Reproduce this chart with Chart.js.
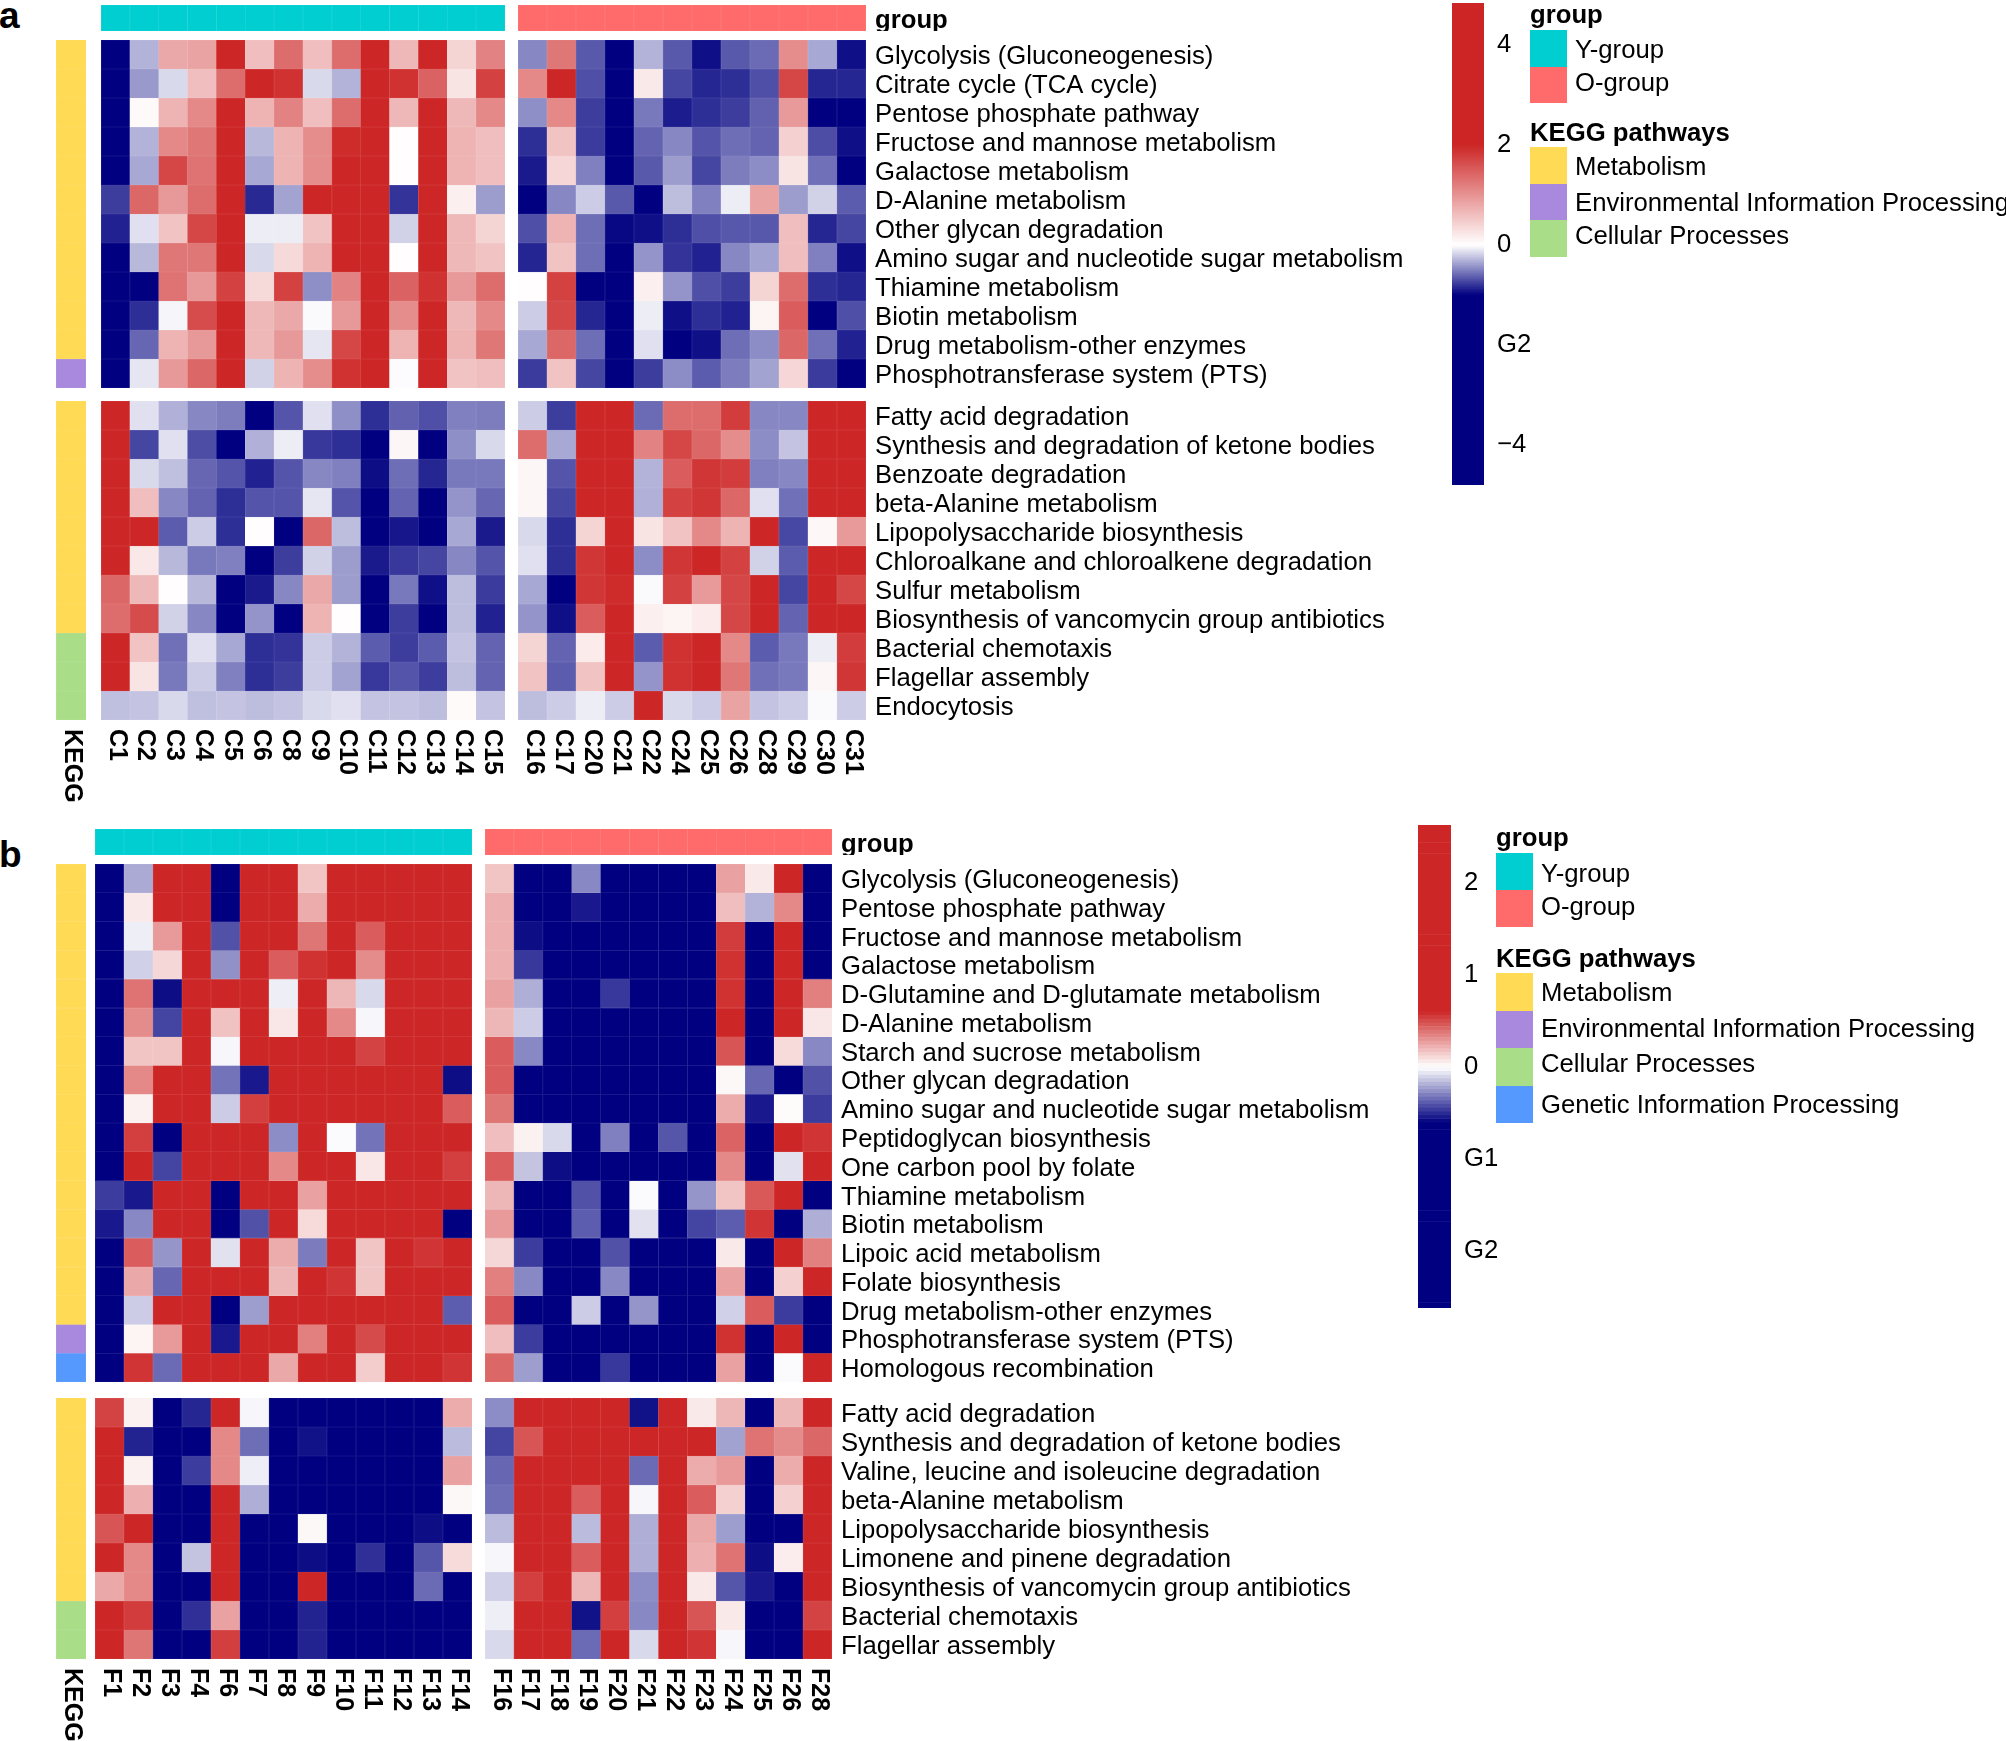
<!DOCTYPE html>
<html>
<head>
<meta charset="utf-8">
<script src="https://cdn.jsdelivr.net/npm/chart.js@4.4.0/dist/chart.umd.min.js"></script>
<style>
  html, body { margin: 0; padding: 0; background: #fff; overflow: hidden; }
  body { width: 2006px; height: 1741px; position: relative; font-family: "Liberation Sans", Arial, sans-serif; }
  canvas { position: absolute; }
  .t { position: absolute; white-space: nowrap; font-size: 25.7px; line-height: 30px; color: #000; }
  .b { font-weight: bold; }
  .sw { position: absolute; }
</style>
</head>
<body>
<script>
// ---- data ----
const groupNames = ['Y-group', 'O-group'];
const groupColors = ['#00CED1', '#FF6A6A'];
const keggNames = ['Metabolism', 'Environmental Information Processing', 'Cellular Processes', 'Genetic Information Processing'];
const keggColors = ['#FFDA55', '#A889DD', '#AADD88', '#5599FF'];

// panel a
const aColsY = ['C1', 'C2', 'C3', 'C4', 'C5', 'C6', 'C8', 'C9', 'C10', 'C11', 'C12', 'C13', 'C14', 'C15'];
const aColsO = ['C16', 'C17', 'C20', 'C21', 'C22', 'C24', 'C25', 'C26', 'C28', 'C29', 'C30', 'C31'];
const aRowsUp = ['Glycolysis (Gluconeogenesis)', 'Citrate cycle (TCA cycle)', 'Pentose phosphate pathway',
  'Fructose and mannose metabolism', 'Galactose metabolism', 'D-Alanine metabolism', 'Other glycan degradation',
  'Amino sugar and nucleotide sugar metabolism', 'Thiamine metabolism', 'Biotin metabolism',
  'Drug metabolism-other enzymes', 'Phosphotransferase system (PTS)'];
const aRowsDown = ['Fatty acid degradation', 'Synthesis and degradation of ketone bodies', 'Benzoate degradation',
  'beta-Alanine metabolism', 'Lipopolysaccharide biosynthesis', 'Chloroalkane and chloroalkene degradation',
  'Sulfur metabolism', 'Biosynthesis of vancomycin group antibiotics', 'Bacterial chemotaxis',
  'Flagellar assembly', 'Endocytosis'];
const aKeggUp = [0, 0, 0, 0, 0, 0, 0, 0, 0, 0, 0, 1];
const aKeggDown = [0, 0, 0, 0, 0, 0, 0, 0, 2, 2, 2];

const aUpY = [
  [-1.5, -0.3, 0.8, 0.85, 2.5, 0.6, 1.35, 0.6, 1.35, 2.5, 0.65, 2.5, 0.4, 1.15],
  [-1.5, -0.4, -0.15, 0.6, 1.35, 2.4, 1.9, -0.15, -0.3, 2.3, 1.9, 1.45, 0.25, 1.75],
  [-1.4, 0.05, 0.7, 1.1, 2.4, 0.7, 1.15, 0.6, 1.35, 2.2, 0.65, 2.4, 0.65, 1.1],
  [-1.4, -0.3, 1.1, 1.25, 2.3, -0.28, 0.7, 1.05, 1.95, 2.2, 0.02, 2.3, 0.7, 0.6],
  [-1.4, -0.34, 1.7, 1.3, 2.4, -0.34, 0.7, 1.05, 2.0, 2.2, 0.02, 2.4, 0.7, 0.6],
  [-0.76, 1.4, 0.95, 1.35, 2.3, -0.84, -0.36, 2.2, 2.1, 2.3, -0.8, 2.4, 0.15, -0.39],
  [-0.87, -0.12, 0.55, 1.7, 2.3, -0.07, -0.07, 0.55, 2.1, 2.2, -0.18, 2.3, 0.65, 0.4],
  [-1.3, -0.28, 1.25, 1.25, 2.3, -0.15, 0.35, 0.7, 2.1, 2.2, 0.02, 2.3, 0.65, 0.55],
  [-1.3, -1.2, 1.3, 0.95, 1.75, 0.35, 1.75, -0.44, 1.15, 2.2, 1.45, 1.9, 0.95, 1.35],
  [-1.3, -0.82, -0.04, 1.65, 2.3, 0.65, 0.8, -0.02, 0.95, 2.2, 1.05, 2.3, 0.65, 1.1],
  [-1.3, -0.6, 0.7, 0.95, 2.3, 0.65, 0.95, -0.1, 1.7, 2.2, 0.7, 2.3, 0.7, 1.25],
  [-1.3, -0.1, 0.95, 1.4, 2.3, -0.18, 0.7, 1.05, 1.9, 2.1, -0.01, 2.3, 0.55, 0.6]
];
const aUpO = [
  [-0.47, 1.25, -0.65, -1.5, -0.3, -0.65, -0.94, -0.65, -0.58, 1.05, -0.34, -0.94],
  [1.1, 2.2, -0.69, -1.5, 0.2, -0.73, -0.85, -0.82, -0.69, 1.7, -0.85, -0.85],
  [-0.44, 1.1, -0.76, -1.4, -0.53, -0.89, -0.82, -0.76, -0.62, 0.93, -1.05, -1.3],
  [-0.82, 0.55, -0.77, -1.4, -0.61, -0.47, -0.67, -0.57, -0.61, 0.43, -0.7, -0.94],
  [-0.9, 0.38, -0.5, -1.4, -0.65, -0.39, -0.73, -0.51, -0.45, 0.25, -0.56, -1.1],
  [-1.2, -0.47, -0.2, -0.65, -1.1, -0.26, -0.5, -0.07, 0.85, -0.39, -0.18, -0.64],
  [-0.69, 0.7, -0.57, -0.97, -0.94, -0.82, -0.69, -0.66, -0.66, 0.6, -0.85, -0.73],
  [-0.86, 0.55, -0.57, -1.3, -0.42, -0.8, -0.87, -0.47, -0.36, 0.6, -0.5, -0.94],
  [0.02, 1.75, -1.2, -1.3, 0.15, -0.42, -0.69, -0.76, 0.4, 1.35, -0.82, -0.85],
  [-0.2, 1.7, -0.85, -1.3, -0.07, -0.94, -0.82, -0.87, 0.1, 1.5, -1.2, -0.69],
  [-0.34, 1.4, -0.57, -1.3, -0.12, -1.05, -0.94, -0.57, -0.45, 1.4, -0.56, -0.87],
  [-0.77, 0.55, -0.73, -1.3, -0.76, -0.45, -0.64, -0.51, -0.36, 0.38, -0.77, -1.2]
];
const aDownY = [
  [2.3, -0.12, -0.31, -0.47, -0.51, -1.2, -0.67, -0.12, -0.44, -0.82, -0.62, -0.69, -0.5, -0.51],
  [2.2, -0.73, -0.12, -0.7, -1.2, -0.31, -0.07, -0.78, -0.82, -1.2, 0.08, -1.3, -0.44, -0.15],
  [2.2, -0.15, -0.25, -0.6, -0.67, -0.87, -0.67, -0.47, -0.5, -0.95, -0.57, -0.85, -0.53, -0.53],
  [2.2, 0.6, -0.47, -0.61, -0.82, -0.67, -0.67, -0.1, -0.67, -1.2, -0.61, -1.05, -0.42, -0.6],
  [2.2, 2.0, -0.64, -0.2, -0.82, 0.02, -1.2, 1.4, -0.26, -1.2, -0.91, -1.1, -0.34, -0.9],
  [2.2, 0.22, -0.28, -0.53, -0.5, -1.2, -0.76, -0.18, -0.39, -0.9, -0.78, -0.73, -0.47, -0.67],
  [1.4, 0.65, 0.02, -0.28, -1.2, -0.9, -0.47, 0.8, -0.39, -1.2, -0.53, -0.94, -0.26, -0.77],
  [1.35, 1.65, -0.18, -0.47, -1.05, -0.42, -1.2, 0.7, 0.02, -1.2, -0.76, -1.2, -0.26, -0.87],
  [2.2, 0.55, -0.56, -0.12, -0.34, -0.82, -0.8, -0.2, -0.3, -0.64, -0.76, -0.64, -0.23, -0.61],
  [2.2, 0.25, -0.53, -0.2, -0.5, -0.82, -0.76, -0.2, -0.36, -0.78, -0.67, -0.76, -0.26, -0.61],
  [-0.25, -0.23, -0.15, -0.25, -0.23, -0.26, -0.23, -0.15, -0.12, -0.23, -0.23, -0.26, 0.05, -0.23]
];
const aDownO = [
  [-0.2, -0.76, 2.2, 2.2, -0.58, 1.35, 1.35, 1.8, -0.47, -0.47, 2.2, 2.2],
  [1.35, -0.34, 2.2, 2.2, 1.15, 1.7, 1.4, 1.05, -0.45, -0.23, 2.2, 2.2],
  [0.08, -0.67, 2.2, 2.2, -0.3, 1.5, 1.85, 1.8, -0.5, -0.47, 2.2, 2.2],
  [0.08, -0.73, 2.2, 2.2, -0.31, 1.75, 1.85, 1.4, -0.12, -0.56, 2.2, 2.2],
  [-0.15, -0.82, 0.4, 2.2, 0.25, 0.55, 1.1, 0.7, 2.1, -0.72, 0.07, 0.93],
  [-0.12, -0.82, 1.85, 2.2, -0.45, 1.85, 2.1, 1.75, -0.18, -0.64, 2.2, 2.2],
  [-0.34, -1.3, 1.85, 1.95, -0.02, 1.75, 0.93, 1.7, 2.1, -0.73, 2.2, 1.7],
  [-0.42, -0.94, 1.5, 2.2, 0.15, 0.1, 0.18, 1.7, 2.1, -0.61, 2.2, 2.2],
  [0.4, -0.61, 0.18, 2.2, -0.64, 1.9, 2.1, 1.1, -0.64, -0.53, -0.07, 1.8],
  [0.55, -0.64, 0.55, 2.2, -0.42, 1.9, 2.1, 1.25, -0.56, -0.53, 0.08, 1.85],
  [-0.26, -0.2, -0.07, -0.2, 2.1, -0.15, -0.2, 0.85, -0.23, -0.2, -0.02, -0.2]
];

// panel b
const bColsY = ['F1', 'F2', 'F3', 'F4', 'F6', 'F7', 'F8', 'F9', 'F10', 'F11', 'F12', 'F13', 'F14'];
const bColsO = ['F16', 'F17', 'F18', 'F19', 'F20', 'F21', 'F22', 'F23', 'F24', 'F25', 'F26', 'F28'];
const bRowsUp = ['Glycolysis (Gluconeogenesis)', 'Pentose phosphate pathway', 'Fructose and mannose metabolism',
  'Galactose metabolism', 'D-Glutamine and D-glutamate metabolism', 'D-Alanine metabolism',
  'Starch and sucrose metabolism', 'Other glycan degradation', 'Amino sugar and nucleotide sugar metabolism',
  'Peptidoglycan biosynthesis', 'One carbon pool by folate', 'Thiamine metabolism', 'Biotin metabolism',
  'Lipoic acid metabolism', 'Folate biosynthesis', 'Drug metabolism-other enzymes',
  'Phosphotransferase system (PTS)', 'Homologous recombination'];
const bRowsDown = ['Fatty acid degradation', 'Synthesis and degradation of ketone bodies',
  'Valine, leucine and isoleucine degradation', 'beta-Alanine metabolism', 'Lipopolysaccharide biosynthesis',
  'Limonene and pinene degradation', 'Biosynthesis of vancomycin group antibiotics', 'Bacterial chemotaxis',
  'Flagellar assembly'];
const bKeggUp = [0, 0, 0, 0, 0, 0, 0, 0, 0, 0, 0, 0, 0, 0, 0, 0, 1, 3];
const bKeggDown = [0, 0, 0, 0, 0, 0, 0, 2, 2];

const bUpY = [
  [-1.8, -0.2, 1.4, 1.5, -1.7, 1.4, 1.3, 0.16, 1.5, 1.6, 1.5, 1.6, 1.5],
  [-1.8, 0.06, 1.4, 1.5, -1.7, 1.4, 1.3, 0.23, 1.5, 1.5, 1.6, 1.6, 1.5],
  [-1.8, -0.04, 0.28, 1.4, -0.41, 1.3, 1.2, 0.38, 1.3, 0.45, 1.5, 1.5, 1.4],
  [-1.8, -0.11, 0.11, 1.4, -0.26, 1.3, 0.45, 0.57, 1.3, 0.32, 1.5, 1.5, 1.4],
  [-1.8, 0.39, -0.57, 1.3, 1.2, 1.3, -0.04, 1.2, 0.2, -0.09, 1.4, 1.4, 1.3],
  [-1.8, 0.32, -0.44, 1.3, 0.17, 1.2, 0.07, 0.6, 0.33, -0.02, 1.4, 1.4, 1.3],
  [-1.7, 0.16, 0.16, 1.3, -0.02, 1.2, 1.1, 1.0, 1.1, 0.52, 1.3, 1.4, 1.3],
  [-1.7, 0.33, 1.1, 1.2, -0.33, -0.54, 1.1, 1.2, 1.2, 1.2, 1.3, 1.3, -0.57],
  [-1.7, 0.04, 0.6, 1.2, -0.12, 0.53, 1.0, 1.1, 1.2, 1.2, 1.3, 1.3, 0.45],
  [-1.7, 0.53, -1.1, 1.2, 1.0, 1.0, -0.27, 1.0, -0.01, -0.33, 1.2, 1.2, 1.1],
  [-1.6, 1.0, -0.44, 1.1, 1.0, 1.0, 0.33, 1.0, 1.1, 0.07, 1.2, 1.2, 0.53],
  [-0.46, -0.54, 1.0, 1.1, -1.2, 1.0, 1.0, 0.26, 1.0, 1.1, 1.1, 1.2, 1.1],
  [-0.54, -0.28, 1.0, 1.0, -1.2, -0.41, 0.9, 0.1, 1.0, 1.1, 1.1, 1.1, -1.0],
  [-1.5, 0.45, -0.25, 1.0, -0.07, 0.9, 0.23, -0.31, 0.9, 0.16, 1.0, 0.56, 1.0],
  [-1.5, 0.24, -0.36, 0.9, 0.9, 0.9, 0.2, 0.9, 0.56, 0.16, 1.0, 1.0, 1.0],
  [-1.5, -0.12, 0.9, 0.9, -1.1, -0.23, 0.9, 0.6, 0.9, 0.9, 1.0, 1.0, -0.38],
  [-1.4, 0.03, 0.28, 0.9, -0.54, 0.9, 0.8, 0.35, 0.9, 0.5, 0.9, 1.0, 0.9],
  [-1.4, 0.56, -0.35, 0.8, 0.8, 0.8, 0.24, 0.8, 0.6, 0.14, 0.9, 0.9, 0.56]
];
const bUpO = [
  [0.16, -1.5, -1.5, -0.28, -1.6, -1.5, -1.6, -1.5, 0.26, 0.06, 1.0, -1.3],
  [0.22, -1.5, -1.5, -0.54, -1.6, -1.5, -1.6, -1.5, 0.18, -0.18, 0.33, -1.3],
  [0.22, -0.57, -1.4, -1.4, -1.5, -1.5, -1.5, -1.4, 0.54, -1.0, 0.9, -1.2],
  [0.22, -0.47, -1.4, -1.4, -1.5, -1.5, -1.5, -1.4, 0.57, -1.0, 0.9, -1.2],
  [0.26, -0.19, -1.4, -1.3, -0.47, -1.4, -1.5, -1.4, 0.57, -1.0, 0.9, 0.35],
  [0.2, -0.12, -1.3, -1.3, -1.4, -1.4, -1.4, -1.3, 0.7, -0.9, 0.9, 0.07],
  [0.45, -0.28, -1.3, -1.3, -1.4, -1.4, -1.4, -1.3, 0.47, -0.9, 0.1, -0.28],
  [0.45, -1.0, -1.3, -1.2, -1.3, -1.4, -1.4, -1.3, 0.02, -0.36, -0.8, -0.41],
  [0.38, -1.0, -1.2, -1.2, -1.3, -1.3, -1.3, -1.2, 0.23, -0.54, 0.01, -0.46],
  [0.18, 0.04, -0.09, -1.2, -0.3, -1.3, -0.4, -1.2, 0.43, -0.9, 0.8, 0.56],
  [0.45, -0.14, -0.57, -1.1, -0.62, -1.2, -1.2, -1.1, 0.33, -0.9, -0.07, 0.8],
  [0.2, -1.0, -1.1, -0.41, -1.2, -0.01, -1.2, -0.25, 0.16, 0.46, 0.8, -0.8],
  [0.28, -1.0, -1.1, -0.38, -1.2, -0.07, -1.1, -0.44, -0.38, 0.56, -0.8, -0.19],
  [0.11, -0.46, -1.0, -1.0, -0.41, -1.1, -1.1, -1.0, 0.06, -0.8, 0.8, 0.35],
  [0.35, -0.28, -1.0, -1.0, -0.28, -1.1, -1.1, -1.0, 0.26, -0.8, 0.13, 0.8],
  [0.45, -0.9, -1.0, -0.12, -1.0, -0.25, -1.0, -1.0, -0.11, 0.45, -0.46, -0.8],
  [0.18, -0.46, -0.9, -0.9, -1.0, -1.0, -1.0, -0.9, 0.57, -0.8, 0.7, -0.8],
  [0.42, -0.23, -0.9, -0.9, -0.47, -1.0, -1.0, -0.9, 0.26, -0.8, -0.01, 0.7]
];
const bDownY = [
  [0.52, 0.04, -1.5, -0.51, 1.2, -0.02, -1.6, -1.6, -1.6, -1.6, -1.6, -1.6, 0.23],
  [1.2, -0.52, -1.5, -1.3, 0.33, -0.34, -1.5, -0.56, -1.5, -1.5, -1.5, -1.5, -0.16],
  [1.2, 0.04, -1.5, -0.46, 0.33, -0.04, -1.5, -1.5, -1.5, -1.5, -1.5, -1.5, 0.26],
  [1.1, 0.22, -1.4, -1.3, 1.1, -0.19, -1.4, -1.4, -1.4, -1.4, -1.4, -1.4, 0.02],
  [0.47, 1.1, -1.4, -1.3, 1.1, -1.2, -1.4, 0.02, -1.4, -1.4, -1.4, -0.57, -1.2],
  [1.1, 0.33, -1.4, -0.14, 1.1, -1.2, -1.3, -0.57, -1.3, -0.49, -1.3, -0.4, 0.1],
  [0.24, 0.33, -1.3, -1.2, 1.0, -1.2, -1.3, 1.0, -1.3, -1.3, -1.3, -0.35, -1.1],
  [1.0, 0.54, -1.3, -0.49, 0.26, -1.1, -1.2, -0.52, -1.2, -1.2, -1.2, -1.2, -1.1],
  [1.0, 0.38, -1.2, -1.1, 0.53, -1.1, -1.2, -0.52, -1.2, -1.2, -1.2, -1.2, -1.1]
];
const bDownO = [
  [-0.27, 1.1, 1.2, 1.2, 1.1, -0.56, 1.1, 0.06, 0.2, -1.3, 0.2, 1.0],
  [-0.44, 0.47, 1.2, 1.2, 1.1, 1.0, 1.1, 0.9, -0.22, 0.39, 0.32, 0.42],
  [-0.36, 1.1, 1.1, 1.1, 1.0, -0.35, 1.0, 0.23, 0.28, -1.2, 0.23, 0.9],
  [-0.34, 1.0, 1.1, 0.45, 1.0, -0.02, 1.0, 0.45, 0.13, -1.2, 0.13, 0.9],
  [-0.16, 1.0, 1.0, -0.16, 1.0, -0.19, 0.9, 0.24, -0.23, -1.1, -1.0, 0.9],
  [-0.02, 1.0, 1.0, 0.45, 0.9, -0.19, 0.9, 0.22, 0.39, -0.57, 0.05, 0.8],
  [-0.11, 0.53, 0.9, 0.2, 0.9, -0.27, 0.9, 0.06, -0.4, -0.54, -1.0, 0.8],
  [-0.04, 0.9, 0.9, -0.56, 0.53, -0.28, 0.8, 0.47, 0.06, -1.0, -0.9, 0.52],
  [-0.09, 0.9, 0.8, -0.35, 0.8, -0.09, 0.8, 0.56, -0.02, -1.0, -0.9, 0.7]
];

// colour bar ticks
const aBarRange = [-4.8, 4.84];
const aBarTicks = [-4, -2, 0, 2, 4];
const aBarText = ['\u22124', 'G2', '0', '2', '4'];
const bBarRange = [-2.62, 2.63];
const bBarTicks = [-2, -1, 0, 1, 2];
const bBarText = ['G2', 'G1', '0', '1', '2'];

// ---- drawing ----
const FONT = '"Liberation Sans", Arial, sans-serif';
Chart.defaults.font.family = FONT;
Chart.defaults.font.size = 25.7;
Chart.defaults.color = '#000';
Chart.defaults.animation = false;
Chart.defaults.plugins.legend.display = false;
Chart.defaults.plugins.tooltip.enabled = false;

const NAVY = [0, 0, 128], RED = [205, 38, 38];

function rgb(c, t) {
  return 'rgb(' + c.map(x => Math.round(255 + (x - 255) * t)).join(',') + ')';
}
function heatColor(v, sc, light) {
  const t = Math.min(Math.abs(v) / (v >= 0 ? sc.pos : sc.neg), 1);
  return rgb(v >= 0 ? RED : NAVY, t * (1 - (light || 0)));
}
function tint(hex, light) {
  const n = parseInt(hex.slice(1), 16);
  return rgb([n >> 16 & 255, n >> 8 & 255, n & 255], 1 - light);
}

function makeCanvas(x, y, w, h) {
  const c = document.createElement('canvas');
  c.width = w; c.height = h;
  c.style.left = x + 'px'; c.style.top = y + 'px';
  c.style.width = w + 'px'; c.style.height = h + 'px';
  document.body.appendChild(c);
  return c.getContext('2d');
}

// row names on the right side
function nameAxis(labels, width, bold) {
  return {
    type: 'category', axis: 'y', position: 'right', labels: labels, offset: true,
    grid: { display: false, drawTicks: false }, border: { display: false },
    ticks: { padding: 9, labelOffset: 2.5, autoSkip: false, font: { size: 25.7, weight: bold ? 'bold' : 'normal' } },
    afterFit(s) { s.width = width; s.paddingTop = 0; s.paddingBottom = 0; }
  };
}

// column names hanging under the cells, read top to bottom
function colNames(labels) {
  return {
    id: 'colNames',
    afterDraw(chart) {
      const ctx = chart.ctx, sx = chart.scales.x;
      ctx.save();
      ctx.font = 'bold 25px ' + FONT;
      ctx.fillStyle = '#000';
      ctx.textAlign = 'left';
      ctx.textBaseline = 'middle';
      labels.forEach((lab, i) => {
        ctx.save();
        ctx.translate(sx.getPixelForValue(i) + 1, chart.chartArea.bottom + 9);
        ctx.rotate(Math.PI / 2);
        ctx.fillText(lab, 0, 0);
        ctx.restore();
      });
      ctx.restore();
    }
  };
}

function cellSet(colors, borders) {
  return {
    data: colors.map(() => 1),
    backgroundColor: colors, borderColor: borders, borderWidth: 0.6, borderSkipped: false,
    categoryPercentage: 1, barPercentage: 1
  };
}

function gridChart(pos, cols, nRows, datasets, opts) {
  const extraR = opts.names ? 560 : 0;
  const extraB = opts.colLabels ? 120 : 0;
  const ctx = makeCanvas(pos.x, pos.y, pos.w + extraR, pos.h + extraB);
  const scales = {
    x: { display: false, stacked: true },
    y: { display: false, stacked: true, reverse: true, min: 0, max: nRows }
  };
  if (opts.names) scales.names = nameAxis(opts.names, extraR, opts.bold);
  new Chart(ctx, {
    type: 'bar',
    data: { labels: cols, datasets: datasets },
    options: { responsive: false, layout: { padding: { bottom: extraB } }, scales: scales },
    plugins: opts.colLabels ? [colNames(opts.colLabels)] : []
  });
}

function heatChart(pos, cols, rows, values, sc, opts) {
  const sets = values.map(row => cellSet(row.map(v => heatColor(v, sc)), row.map(v => heatColor(v, sc, 0.15))));
  gridChart(pos, cols, rows.length, sets, opts);
}

function groupChart(pos, cols, g, withTitle) {
  const sets = [cellSet(cols.map(() => groupColors[g]), cols.map(() => tint(groupColors[g], 0.15)))];
  gridChart(pos, cols, 1, sets, { names: withTitle ? ['group'] : null, bold: true });
}

function keggChart(pos, kegg, withLabel) {
  const sets = kegg.map(k => cellSet([keggColors[k]], [tint(keggColors[k], 0.15)]));
  gridChart(pos, ['KEGG'], kegg.length, sets, { colLabels: withLabel ? ['KEGG'] : null });
}

function colorBar(pos, range, sc, ticks, text) {
  const labelW = 60, step = 0.04;
  const ctx = makeCanvas(pos.x, pos.y, pos.w + labelW, pos.h);
  const sets = [];
  for (let v = 0; v < range[1]; v += step) sets.push({ data: [step], backgroundColor: heatColor(v + step / 2, sc) });
  for (let v = 0; v > range[0]; v -= step) sets.push({ data: [-step], backgroundColor: heatColor(v - step / 2, sc) });
  sets.forEach(s => { s.borderWidth = 0; s.categoryPercentage = 1; s.barPercentage = 1; });
  new Chart(ctx, {
    type: 'bar',
    data: { labels: [''], datasets: sets },
    options: {
      responsive: false,
      scales: {
        x: { display: false, stacked: true },
        y: {
          stacked: true, position: 'right', min: range[0], max: range[1],
          grid: { display: false, drawTicks: false }, border: { display: false },
          afterBuildTicks(s) { s.ticks = ticks.map(v => ({ value: v })); },
          ticks: { padding: 13, callback: (v, i) => text[i] },
          afterFit(s) { s.width = labelW; s.paddingTop = 0; s.paddingBottom = 0; }
        }
      }
    }
  });
}

function addText(txt, x, top, cls, size) {
  const d = document.createElement('div');
  d.className = 't ' + (cls || '');
  d.textContent = txt;
  d.style.left = x + 'px'; d.style.top = top + 'px';
  if (size) { d.style.fontSize = size + 'px'; d.style.lineHeight = size + 'px'; }
  document.body.appendChild(d);
}
function addSwatch(x, y, w, h, color) {
  const d = document.createElement('div');
  d.className = 'sw';
  Object.assign(d.style, { left: x + 'px', top: y + 'px', width: w + 'px', height: h + 'px', background: color });
  document.body.appendChild(d);
}

function legend(L, nKegg) {
  addText('group', L.x, L.groupTop, 'b');
  groupNames.forEach((n, i) => {
    addSwatch(L.x, L.gSw[i], L.sw, L.gSw[i + 1] - L.gSw[i], groupColors[i]);
    addText(n, L.tx, L.gTxt[i]);
  });
  addText('KEGG pathways', L.x, L.keggTop, 'b');
  keggNames.slice(0, nKegg).forEach((n, i) => {
    addSwatch(L.x, L.kSw[i], L.sw, L.kSw[i + 1] - L.kSw[i], keggColors[i]);
    addText(n, L.tx, L.kTxt[i]);
  });
}

function panel(P, d) {
  groupChart(P.groupY, d.colsY, 0, false);
  groupChart(P.groupO, d.colsO, 1, true);
  keggChart(P.keggUp, d.keggUp, false);
  keggChart(P.keggDown, d.keggDown, true);
  heatChart(P.upY, d.colsY, d.rowsUp, d.upY, d.sc, {});
  heatChart(P.upO, d.colsO, d.rowsUp, d.upO, d.sc, { names: d.rowsUp });
  heatChart(P.downY, d.colsY, d.rowsDown, d.downY, d.sc, { colLabels: d.colsY });
  heatChart(P.downO, d.colsO, d.rowsDown, d.downO, d.sc, { names: d.rowsDown, colLabels: d.colsO });
  colorBar(P.bar, d.range, d.sc, d.ticks, d.text);
  legend(P.legend, d.nKegg);
  addText(P.tag, -1, P.tagTop, 'b', 37);
}

panel({
  tag: 'a', tagTop: -3,
  groupY: { x: 101, y: 5, w: 404, h: 26 }, groupO: { x: 518, y: 5, w: 348, h: 26 },
  upY: { x: 101, y: 40, w: 404, h: 348 }, upO: { x: 518, y: 40, w: 348, h: 348 },
  downY: { x: 101, y: 401, w: 404, h: 319 }, downO: { x: 518, y: 401, w: 348, h: 319 },
  keggUp: { x: 56, y: 40, w: 30, h: 348 }, keggDown: { x: 56, y: 401, w: 30, h: 319 },
  bar: { x: 1452, y: 3, w: 32, h: 482 },
  legend: { x: 1530, tx: 1575, sw: 37, groupTop: -1.5, gSw: [30, 66.5, 103], gTxt: [33.5, 67],
            keggTop: 117, kSw: [147, 183.7, 220.3, 257], kTxt: [151, 187, 220] }
}, {
  colsY: aColsY, colsO: aColsO, rowsUp: aRowsUp, rowsDown: aRowsDown, keggUp: aKeggUp, keggDown: aKeggDown,
  upY: aUpY, upO: aUpO, downY: aDownY, downO: aDownO, sc: { pos: 2.0, neg: 1.0 },
  range: aBarRange, ticks: aBarTicks, text: aBarText, nKegg: 3
});

panel({
  tag: 'b', tagTop: 836,
  groupY: { x: 95, y: 829, w: 377, h: 26 }, groupO: { x: 485, y: 829, w: 347, h: 26 },
  upY: { x: 95, y: 864, w: 377, h: 518 }, upO: { x: 485, y: 864, w: 347, h: 518 },
  downY: { x: 95, y: 1398, w: 377, h: 261 }, downO: { x: 485, y: 1398, w: 347, h: 261 },
  keggUp: { x: 56, y: 864, w: 30, h: 518 }, keggDown: { x: 56, y: 1398, w: 30, h: 261 },
  bar: { x: 1418, y: 825, w: 33, h: 483 },
  legend: { x: 1496, tx: 1541, sw: 37, groupTop: 821.5, gSw: [853, 890, 927], gTxt: [858, 891],
            keggTop: 943, kSw: [973, 1010.5, 1048, 1085.5, 1123], kTxt: [977, 1013, 1048, 1089] }
}, {
  colsY: bColsY, colsO: bColsO, rowsUp: bRowsUp, rowsDown: bRowsDown, keggUp: bKeggUp, keggDown: bKeggDown,
  upY: bUpY, upO: bUpO, downY: bDownY, downO: bDownO, sc: { pos: 0.6, neg: 0.6 },
  range: bBarRange, ticks: bBarTicks, text: bBarText, nKegg: 4
});
</script>
</body>
</html>
